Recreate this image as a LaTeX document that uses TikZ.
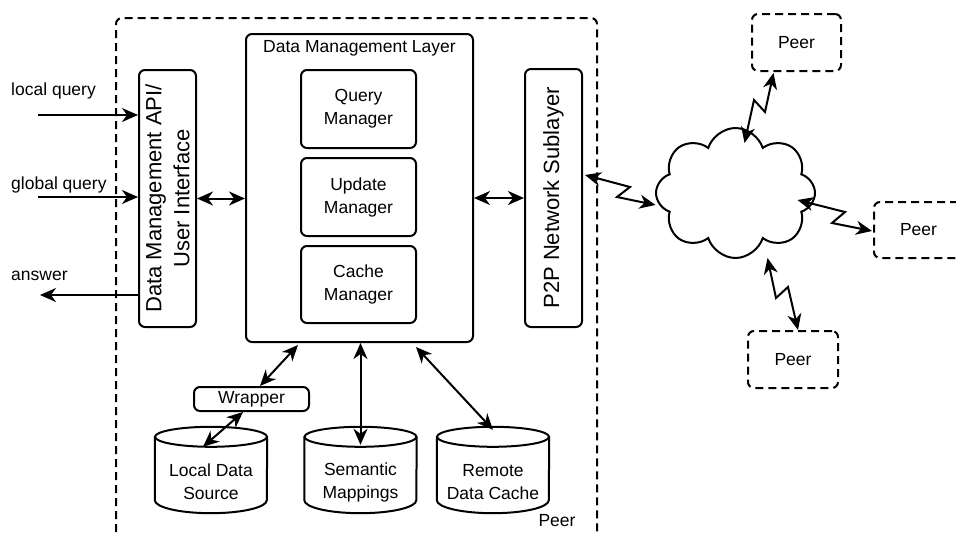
\documentclass[tikz,border=0pt]{standalone}
\usepackage{fontspec}
\setmainfont{Liberation Sans}
\usetikzlibrary{arrows.meta,calc,shapes.symbols}
\begin{document}
\begin{tikzpicture}[x=1pt,y=-1pt,
  lw/.style={line width=2pt},
  txt/.style={font=\fontsize{17.5}{22}\selectfont, align=center, inner sep=0pt},
  rtxt/.style={font=\fontsize{22}{28}\selectfont, align=center, inner sep=0pt, rotate=90},
  box/.style={lw, draw, rounded corners=6pt, inner sep=0pt, align=center, font=\fontsize{17.5}{23}\selectfont},
  peerbox/.style={box, dash pattern=on 8pt off 5pt},
  cylb/.style={draw=none, inner sep=0pt, minimum width=112pt, minimum height=86pt},
  arr/.style={lw, -{Stealth[length=16pt,width=14pt,inset=5pt]}},
  biarr/.style={lw, {Stealth[length=16pt,width=14pt,inset=5pt]}-{Stealth[length=16pt,width=14pt,inset=5pt]}}
]
\useasboundingbox (0,0) rectangle (956,533);
\clip (0,0) rectangle (956,533);
\fill[white] (0,0) rectangle (956,533);

% outer peer boundary
\draw[lw, dash pattern=on 8pt off 5pt, rounded corners=6pt] (116,545) -- (116,18) -- (597,18) -- (597,545);
\node[txt] (peerlbl) at (557,521) {Peer};

% API box
\node[box, minimum width=57pt, minimum height=257pt] (api) at (167.5,198.5) {};
\node[rtxt] (apitext) at (api.center) {Data Management API/\\User Interface};

% Data management layer
\node[box, minimum width=227pt, minimum height=308pt] (dml) at (359.5,188) {};
\node[txt] (dmltitle) at (359.5,48) {Data Management Layer};
\node[box, minimum width=115pt, minimum height=78pt] (qm) at (358.5,109) {Query\\Manager};
\node[box, minimum width=115pt, minimum height=78pt] (um) at (358.5,197) {Update\\Manager};
\node[box, minimum width=115pt, minimum height=77pt] (cm) at (358.5,284.5) {Cache\\Manager};

% P2P box
\node[box, minimum width=57pt, minimum height=258pt] (p2p) at (553.5,198) {};
\node[rtxt] (p2ptext) at (p2p.center) {P2P Network Sublayer};

% wrapper
\node[box, minimum width=115pt, minimum height=24pt] (wrap) at (251.5,399) {Wrapper};

% cylinders
\foreach \n/\x/\t in {lds/211/{Local Data\\Source}, sm/360.5/{Semantic\\Mappings}, rdc/493/{Remote\\Data Cache}} {
  \node[cylb] (\n) at (\x,470) {};
  \draw[lw] ($(\n.north)+(0,10)$) ellipse [x radius=56, y radius=10];
  \draw[lw] ($(\n.north west)+(0,10)$) -- ($(\n.south west)+(0,-13)$)
        arc[start angle=180, end angle=0, x radius=56, y radius=13]
        -- ($(\n.north east)+(0,10)$);
  \node[txt, font=\fontsize{17.5}{23}\selectfont] at ($(\n.center)+(0,12)$) {\t};
}

% external query arrows
\coordinate (lq) at (38,115);
\coordinate (gq) at (38,197);
\coordinate (ans) at (40,295);
\node[txt, anchor=west] (lqlbl) at (11,91) {local query};
\node[txt, anchor=west] (gqlbl) at (11,185) {global query};
\node[txt, anchor=west] (anslbl) at (11,276) {answer};
\draw[arr] (lq) -- (lq -| api.west);
\draw[arr] (gq) -- (gq -| api.west);
\draw[arr] (ans -| api.west) -- (ans);

% internal arrows
\draw[biarr] (api.east) -- (api.east -| dml.west);
\draw[biarr] (p2p.west -| dml.east) -- (p2p.west);
\draw[biarr] ($(dml.south west)+(53,2)$) -- ($(wrap.north)+(8.5,0)$);
\draw[biarr] ($(wrap.south)+(-8.5,0)$) -- ($(lds.north)+(-8,20)$);
\draw[biarr] (dml.south -| sm.north) -- ($(sm.north)+(0,18)$);
\draw[biarr] ($(dml.south west)+(171,4)$) -- ($(rdc.north)+(0,3)$);

% cloud and peers
\node[cloud, draw, lw, cloud puffs=8, cloud puff arc=145, aspect=1.2, minimum width=159pt, minimum height=130pt, inner sep=0pt] (cloud) at (735.5,193) {};
\node[peerbox, minimum width=89pt, minimum height=57pt] (ptop) at (796.5,42.5) {Peer};
\node[peerbox, minimum width=90pt, minimum height=56pt, text width=89pt] (pright) at (919,230) {\hspace*{-1pt}Peer};
\node[peerbox, minimum width=90pt, minimum height=57pt] (pbot) at (793,359.5) {Peer};

% lightning connectors
\draw[biarr] ($(p2p.north east)+(2,107)$) -- (630,187) -- (617,197) -- ($(cloud.center)+(-80,12)$);
\draw[biarr] ($(ptop.south)+(-23,1)$) -- (765,112) -- (754,100) -- ($(cloud.center)+(9,-50)$);
\draw[biarr] ($(cloud.center)+(62,7)$) -- (845,212) -- (832,223) -- ($(pright.west)+(-1,1)$);
\draw[biarr] ($(cloud.center)+(32,65)$) -- (776,298) -- (788,287) -- ($(pbot.north)+(5,0)$);
\end{tikzpicture}
\end{document}
